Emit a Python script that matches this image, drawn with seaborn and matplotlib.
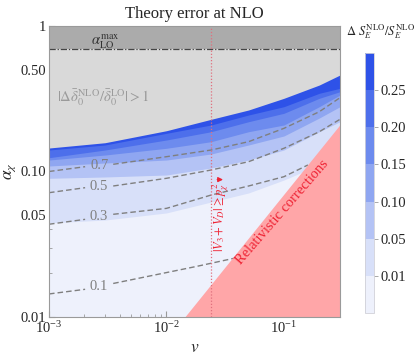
import numpy as np
import matplotlib
matplotlib.use("Agg")
import matplotlib.pyplot as plt
import seaborn as sns
from matplotlib.colors import ListedColormap, BoundaryNorm
from matplotlib.cm import ScalarMappable
from matplotlib.ticker import FixedLocator, FixedFormatter, LogLocator, LogFormatterSciNotation, NullFormatter, NullLocator

# ---------------- data ----------------
# sample velocities for the filled contour band boundaries
v_band = [1e-3, 3e-3, 1e-2, 2.4e-2, 5e-2, 0.1, 0.2, 0.3]
# alpha on each boundary of Delta S_E^NLO / S_E^NLO
band_levels = [0.01, 0.05, 0.10, 0.15, 0.20, 0.25]
alpha_L001 = [0.0443, 0.0464, 0.0519, 0.0617, 0.0712, 0.0874, 0.1109, 0.1298]
alpha_L005 = [0.0898, 0.0917, 0.0946, 0.1057, 0.1199, 0.1405, 0.1877, 0.2199]
alpha_L010 = [0.1091, 0.1144, 0.1199, 0.1319, 0.1521, 0.1754, 0.2331, 0.2789]
alpha_L015 = [0.1199, 0.1298, 0.1444, 0.1603, 0.1877, 0.2087, 0.2789, 0.3355]
alpha_L020 = [0.1244, 0.1405, 0.1646, 0.1877, 0.2199, 0.2512, 0.3185, 0.3536]
alpha_L025 = [0.1405, 0.1521, 0.1830, 0.2087, 0.2445, 0.2789, 0.3448, 0.3730]
# |Delta delta^NLO / delta^LO| > 1 boundary
alpha_gray = [0.1450, 0.1577, 0.1907, 0.2284, 0.2647, 0.3185, 0.3930, 0.4604]
alpha_LO_max = 0.70

# dashed contour lines (second quantity), with gap for inline labels
line_levels = ["0.7", "0.5", "0.3", "0.1"]
v_line_long = [1e-3, 2.03e-3, 3.52e-3, 1e-2, 2.4e-2, 5e-2, 0.1, 0.2, 0.3]
alpha_line_07 = [0.1000, 0.1079, 0.1121, 0.1264, 0.1405, 0.1603, 0.1980, 0.2576, 0.3215]
alpha_line_05 = [0.0715, 0.0774, 0.0795, 0.0898, 0.1024, 0.1168, 0.1444, 0.1877, 0.2284]
v_line_03 = [1e-3, 2.03e-3, 3.52e-3, 1e-2, 2.4e-2, 5e-2, 0.1, 0.16]
alpha_line_03 = [0.0434, 0.0469, 0.0508, 0.0558, 0.0689, 0.0795, 0.0921, 0.1109]
v_line_01 = [1e-3, 2.03e-3, 3.52e-3, 1e-2, 1.77e-2, 3.74e-2]
alpha_line_01 = [0.0144, 0.0155, 0.0170, 0.0202, 0.0222, 0.0253]

# relativistic corrections region (below the line)
v_rel = [0.0143, 0.3]
alpha_rel = [0.01, 0.21]
v_potential = 0.024

cbar_bounds = [0.0, 0.01, 0.05, 0.10, 0.15, 0.20, 0.25, 0.30]
cbar_ticks = [0.01, 0.05, 0.10, 0.15, 0.20, 0.25]
band_colors = ["#EEF1FC", "#D8E0F9", "#B4C3F5", "#8FA6F1", "#6D8BEE", "#4D6FEB", "#2E52E8"]

# ---------------- style ----------------
sns.set_theme(style="ticks")
plt.rcParams["font.family"] = ["Liberation Serif", "DejaVu Serif"]
plt.rcParams["mathtext.fontset"] = "stix"

fig = plt.figure(figsize=(4.15, 3.59), dpi=100)
ax = fig.add_axes([49/415, 1-317/359, 291/415, 291/359])
ax.set_xscale("log")
ax.set_yscale("log")
ax.set_xlim(1e-3, 0.3)
ax.set_ylim(0.01, 1)
ax.set_facecolor(band_colors[0])

# filled bands
band_bounds = [alpha_L001, alpha_L005, alpha_L010, alpha_L015, alpha_L020, alpha_L025]
for i, b in enumerate(band_bounds):
    ax.fill_between(v_band, b, 1.0, color=band_colors[i+1], lw=0, zorder=1+i*0.01)

# dashed contour lines
line_data = [(v_line_long, alpha_line_07), (v_line_long, alpha_line_05),
             (v_line_03, alpha_line_03), (v_line_01, alpha_line_01)]
for lab, (vv, aa) in zip(line_levels, line_data):
    for seg in (slice(0, 2), slice(2, None)):
        sns.lineplot(x=vv[seg], y=aa[seg], ax=ax, color="#7f7f7f", lw=1.0,
                     linestyle=(0, (4, 2.2)), sort=False, estimator=None, zorder=3)
    ax.text(np.sqrt(vv[1]*vv[2]), np.sqrt(aa[1]*aa[2]), lab, color="#808080",
            fontsize=10.5, ha="center", va="center", zorder=3)

# gray excluded regions
ax.fill_between(v_band, alpha_gray, 1.0, color="#D9D9D9", lw=0, zorder=4)
ax.axhspan(alpha_LO_max, 1.0, color="#ABABAB", lw=0, zorder=4.1)
ax.axhline(alpha_LO_max, color="#444444", lw=0.9, linestyle=(0, (5, 1.5, 1, 1.5)), zorder=4.2)

# relativistic region
ax.fill_between(v_rel, [0.01, 0.01], alpha_rel, color="#FFA6A8", lw=0, zorder=5)
ax.axvline(v_potential, color="#E0707E", lw=0.9, linestyle=(0, (1, 1.5)), zorder=6)

# texts
ax.text(0.00301, 0.776, r"$\alpha_{\rm LO}^{\rm max}$", color="#333333", fontsize=10.5,
        ha="center", va="center", zorder=7)
ax.text(0.0029, 0.32, r"$|\Delta\bar{\delta}_0^{\rm NLO}/\bar{\delta}_0^{\rm LO}|>1$",
        color="#9a9a9a", fontsize=10.5, ha="center", va="center", zorder=7)
ax.text(0.097, 0.0525, "Relativistic corrections", color="#EE2233", fontsize=10.5,
        rotation=49, rotation_mode="anchor", ha="center", va="center", zorder=7)
ax.text(0.0290, 0.0490, r"$|V_3+V_D|\geq p_\chi^2$", color="#EE2233", fontsize=9,
        rotation=90, ha="center", va="center", zorder=7)
ax.annotate("", xy=(0.0320, 0.0880), xytext=(0.0256, 0.0880),
            arrowprops=dict(arrowstyle="-|>", color="#EE2233", lw=0.9,
                            mutation_scale=7), zorder=7)

# axes styling
for sp in ax.spines.values():
    sp.set_color("#9a9a9a")
    sp.set_linewidth(0.8)
    sp.set_zorder(8)
ax.yaxis.set_major_locator(FixedLocator([0.01, 0.05, 0.1, 0.5, 1.0]))
ax.yaxis.set_major_formatter(FixedFormatter(["0.01", "0.05", "0.10", "0.50", "1"]))
ax.yaxis.set_minor_locator(LogLocator(base=10, subs=np.arange(2, 10)))
ax.yaxis.set_minor_formatter(NullFormatter())
ax.xaxis.set_major_locator(LogLocator(base=10, numticks=10))
ax.xaxis.set_major_formatter(LogFormatterSciNotation())
ax.xaxis.set_minor_locator(LogLocator(base=10, subs=np.arange(2, 10), numticks=10))
ax.xaxis.set_minor_formatter(NullFormatter())
ax.tick_params(which="both", direction="in", color="#9a9a9a", labelsize=10.5, pad=2)
ax.tick_params(which="major", length=4, width=0.8)
ax.tick_params(which="minor", length=2, width=0.6)
ax.set_xlabel(r"$v$", fontsize=12.5, labelpad=3)
ax.set_ylabel(r"$\alpha_\chi$", fontsize=12.5, labelpad=2)
ax.set_title("Theory error at NLO", fontsize=12, pad=6)

# colorbar
cax = fig.add_axes([365/415, 1-313/359, 9/415, 260/359])
sm = ScalarMappable(norm=BoundaryNorm(cbar_bounds, len(band_colors)),
                    cmap=ListedColormap(band_colors))
cb = fig.colorbar(sm, cax=cax, boundaries=cbar_bounds, spacing="uniform", ticks=cbar_ticks)
cb.ax.set_yticklabels([f"{t:.2f}" for t in cbar_ticks])
cb.ax.yaxis.set_minor_locator(NullLocator())
cb.outline.set_edgecolor("#d0d0d8")
cb.outline.set_linewidth(0.6)
cax.tick_params(which="major", direction="out", length=3, color="#9a9a9a", labelsize=10.5, pad=2, width=0.6)
cax.tick_params(which="minor", length=0)
fig.text(381/415, 1-32/359, r"$\Delta\ S_E^{\rm NLO}/S_E^{\rm NLO}$", fontsize=9,
         ha="center", va="center")

fig.savefig("out.png", dpi=100)
